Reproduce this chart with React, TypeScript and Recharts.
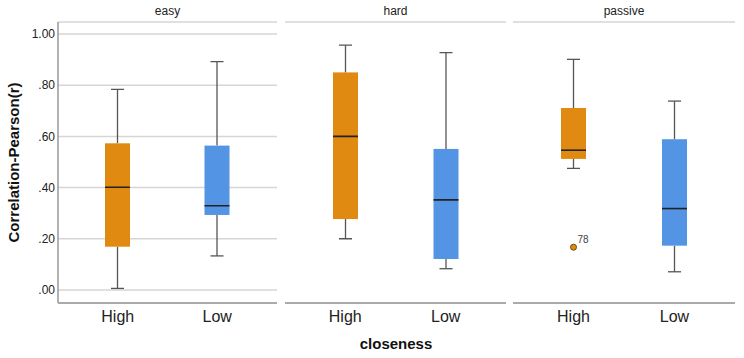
import { ComposedChart, Bar, Scatter, XAxis, YAxis, CartesianGrid } from "recharts"

const facets = ["easy", "hard", "passive"]
const groups = ["High", "Low"]

// per facet: [High, Low]
const whiskerLow = [[0.006, 0.133], [0.2, 0.083], [0.475, 0.071]]
const q1 = [[0.169, 0.293], [0.277, 0.121], [0.512, 0.173]]
const median = [[0.401, 0.329], [0.6, 0.352], [0.546, 0.318]]
const q3 = [[0.573, 0.564], [0.85, 0.551], [0.711, 0.589]]
const whiskerHigh = [[0.784, 0.892], [0.957, 0.927], [0.901, 0.738]]
const outliers = [[null, null], [null, null], [0.167, null]]
const outlierIds = [["", ""], ["", ""], ["78", ""]]

const yTicks = [0, 0.2, 0.4, 0.6, 0.8, 1.0]
const yDomain = [-0.051, 1.047]

const colors: Record<string, string> = { High: "#e08a12", Low: "#5395e4" }
const font = "'Liberation Sans', Arial, sans-serif"

const fmt = (v: number) => (v >= 1 ? v.toFixed(2) : v.toFixed(2).replace(/^0/, ""))

// chart placement for each facet
const panels = [
  { left: 0, width: 277, axisWidth: 58 },
  { left: 285, width: 221, axisWidth: 0 },
  { left: 513, width: 222, axisWidth: 0 },
]

function BoxShape(props: any) {
  const { x, y, width, height, payload } = props
  const top = Math.min(y, y + height)
  const h = Math.abs(height)
  const ppu = h / (payload.q3 - payload.q1)
  const py = (v: number) => top + (payload.q3 - v) * ppu
  const cx = x + width / 2
  const cap = 6.5
  const wc = "#555"
  return (
    <g>
      <line x1={cx} x2={cx} y1={py(payload.hi)} y2={top} stroke={wc} strokeWidth={1.3} />
      <line x1={cx} x2={cx} y1={top + h} y2={py(payload.lo)} stroke={wc} strokeWidth={1.3} />
      <line x1={cx - cap} x2={cx + cap} y1={py(payload.hi)} y2={py(payload.hi)} stroke={wc} strokeWidth={1.3} />
      <line x1={cx - cap} x2={cx + cap} y1={py(payload.lo)} y2={py(payload.lo)} stroke={wc} strokeWidth={1.3} />
      <rect x={x} y={top} width={width} height={h} fill={colors[payload.group]} />
      <line x1={x} x2={x + width} y1={py(payload.med)} y2={py(payload.med)} stroke="#222" strokeWidth={1.6} />
    </g>
  )
}

function OutlierShape(props: any) {
  const { cx, cy, payload } = props
  if (payload.outlier == null) return <g />
  return (
    <g>
      <circle cx={cx} cy={cy} r={3} fill={colors[payload.group]} stroke="#6a4a10" strokeWidth={1} />
      <text x={cx + 4} y={cy - 4} fontSize={10} fill="#444" fontFamily={font}>
        {payload.label}
      </text>
    </g>
  )
}

export default function App() {
  return (
    <div style={{ position: "absolute", left: 0, top: 0, width: 744, height: 358, background: "#fff", fontFamily: font }}>
      {facets.map((f, fi) => {
        const p = panels[fi]
        const data = groups.map((g, gi) => ({
          group: g,
          box: [q1[fi][gi], q3[fi][gi]],
          q1: q1[fi][gi],
          q3: q3[fi][gi],
          med: median[fi][gi],
          lo: whiskerLow[fi][gi],
          hi: whiskerHigh[fi][gi],
          outlier: outliers[fi][gi],
          label: outlierIds[fi][gi],
        }))
        return (
          <div key={f} style={{ position: "absolute", left: p.left, top: 0 }}>
            <div
              style={{
                position: "absolute",
                left: p.axisWidth,
                width: p.width - p.axisWidth,
                top: 4,
                textAlign: "center",
                fontSize: 12,
                color: "#222",
              }}
            >
              {f}
            </div>
            <ComposedChart width={p.width} height={358} data={data} margin={{ top: 22, right: 0, bottom: 25, left: 0 }}>
              <CartesianGrid vertical={false} stroke="#d6d6d6" strokeWidth={1.5} />
              <XAxis
                dataKey="group"
                type="category"
                padding={{ left: 10, right: 10 }}
                height={30}
                tickLine={false}
                axisLine={{ stroke: "#999", strokeWidth: 1.5 }}
                tick={{ fontSize: 16, fill: "#222", fontFamily: font }}
              />
              <YAxis
                type="number"
                domain={yDomain}
                allowDataOverflow
                ticks={yTicks}
                width={p.axisWidth}
                tickLine={false}
                tickSize={1}
                tickMargin={2}
                tick={fi === 0 ? { fontSize: 12, fill: "#222", fontFamily: font } : false}
                tickFormatter={fmt}
                axisLine={{ stroke: "#999", strokeWidth: 1.5 }}
                label={
                  fi === 0
                    ? {
                        value: "Correlation-Pearson(r)",
                        angle: -90,
                        position: "insideLeft",
                        offset: 14,
                        style: { fontSize: 15, fontWeight: 700, fill: "#111", fontFamily: font, textAnchor: "middle" },
                      }
                    : undefined
                }
              />
              <Bar dataKey="box" barSize={25} shape={BoxShape} isAnimationActive={false} />
              <Scatter dataKey="outlier" shape={OutlierShape} isAnimationActive={false} />
            </ComposedChart>
          </div>
        )
      })}
      <div
        style={{
          position: "absolute",
          left: 346,
          width: 100,
          top: 335,
          textAlign: "center",
          fontSize: 15,
          fontWeight: 700,
          color: "#111",
        }}
      >
        closeness
      </div>
    </div>
  )
}
